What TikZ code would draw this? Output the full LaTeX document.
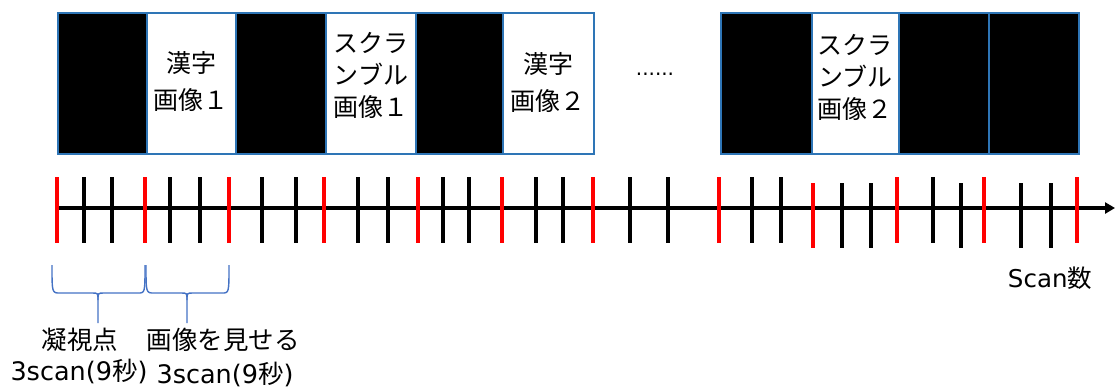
\documentclass[tikz,border=0pt]{standalone}
\usepackage{fontspec}
\setmainfont{DejaVu Sans}
\newfontfamily\jp{Noto Sans CJK JP}
\usetikzlibrary{arrows.meta}
\definecolor{boxblue}{RGB}{46,117,182}
\definecolor{braceblue}{RGB}{68,114,196}
\definecolor{tickred}{RGB}{255,0,0}
\begin{document}
\begin{tikzpicture}[x=1pt,y=-1pt,
  cell/.style={draw=boxblue, line width=1.8pt, minimum height=141pt, inner sep=0pt, anchor=north west},
  dark/.style={cell, fill=black},
  light/.style={cell, fill=white},
  kanji/.style={align=center, font=\jp\fontsize{25}{37}\selectfont},
  scram/.style={align=center, font=\jp\fontsize{25}{32}\selectfont},
  tickline/.style={line width=3.4pt},
  bracepath/.style={draw=braceblue, line width=1.4pt},
  lbl/.style={font=\fontsize{25.5}{30}\selectfont, inner sep=0pt}
]
\useasboundingbox (0,0) rectangle (1115,389);

% cells, first group
\node[dark,  minimum width=89pt] (c1) at (57,12) {};
\node[light, minimum width=89pt] (c2) at (146,12) {};
\node[dark,  minimum width=90pt] (c3) at (235,12) {};
\node[light, minimum width=90pt] (c4) at (325,12) {};
\node[dark,  minimum width=87pt] (c5) at (415,12) {};
\node[light, minimum width=91pt] (c6) at (502,12) {};
% cells, second group
\node[dark,  minimum width=91pt] (d1) at (720,12) {};
\node[light, minimum width=87pt] (d2) at (811,12) {};
\node[dark,  minimum width=90pt] (d3) at (898,12) {};
\node[dark,  minimum width=90pt] (d4) at (988,12) {};

% cell labels
\node[kanji] (t1) at ([yshift=2pt]c2.center) {漢字\\画像１};
\node[scram] (t2) at ([yshift=8pt]c4.center) {スクラ\\ンブル\\画像１};
\node[kanji] (t3) at ([yshift=1pt]c6.center) {漢字\\画像２};
\node[scram] (t4) at ([yshift=6pt]d2.center) {スクラ\\ンブル\\画像２};

% ellipsis
\node[font=\fontsize{20}{24}\selectfont, anchor=base, inner sep=0pt] (dots) at (655,75) {......};

% axis
\coordinate (axs) at (56,208);
\coordinate (axe) at (1115,208);
\draw[tickline, -{Triangle[length=10pt,width=11pt]}] (axs) -- (axe);

% ticks
\foreach \x in {57,145,229,324,418,502,593,719,897,984,1077}
  \draw[tickline, tickred] (\x,177) -- (\x,243);
\foreach \x in {813}
  \draw[tickline, tickred] (\x,183) -- (\x,248);
\foreach \x in {84,112,170,200,262,296,358,388,443,469,536,563,630,668,752,781,933}
  \draw[tickline] (\x,177) -- (\x,243);
\foreach \x in {842,871,961,1021,1051}
  \draw[tickline] (\x,183) -- (\x,248);

% braces
\draw[bracepath] (52,265) .. controls (52,293) .. (60,293) -- (92,293)
  .. controls (98,293) .. (98,300) -- (98,323);
\draw[bracepath] (98,300) .. controls (98,293) .. (104,293) -- (138,293)
  .. controls (145,293) .. (145,265);
\draw[bracepath] (146,265) .. controls (146,293) .. (154,293) -- (181,293)
  .. controls (187,293) .. (187,300) -- (187,323);
\draw[bracepath] (187,300) .. controls (187,293) .. (193,293) -- (222,293)
  .. controls (229,293) .. (229,265);

% bottom labels
\node[lbl] (l1) at (80,340) {\jp 凝視点};
\node[lbl] (l2) at (79,371) {3scan(9{\jp 秒})};
\node[lbl] (l3) at (223,340) {\jp 画像を見せる};
\node[lbl] (l4) at (225,374) {3scan(9{\jp 秒})};
\node[lbl, font=\fontsize{24.5}{28}\selectfont] (l5) at (1050,278) {Scan{\jp 数}};
\end{tikzpicture}
\end{document}
